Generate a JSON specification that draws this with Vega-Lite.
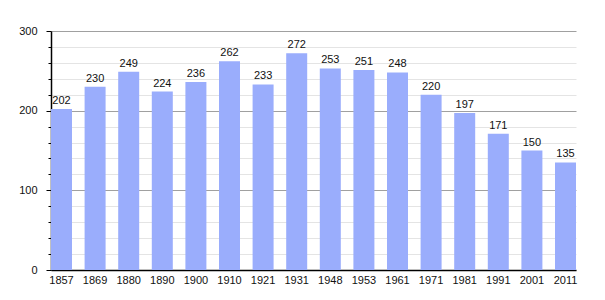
{
  "$schema": "https://vega.github.io/schema/vega-lite/v6.json",
  "width": 525,
  "height": 239,
  "autosize": {"type": "none"},
  "padding": {"left": 51, "top": 31, "right": 29, "bottom": 30},
  "background": "white",
  "config": {
    "view": {"stroke": null},
    "font": "Liberation Sans",
    "axis": {"labelFont": "Liberation Sans", "labelFontSize": 11, "labelColor": "#111"}
  },
  "data": {
    "values": [
      {"year": "1857", "pop": 202},
      {"year": "1869", "pop": 230},
      {"year": "1880", "pop": 249},
      {"year": "1890", "pop": 224},
      {"year": "1900", "pop": 236},
      {"year": "1910", "pop": 262},
      {"year": "1921", "pop": 233},
      {"year": "1931", "pop": 272},
      {"year": "1948", "pop": 253},
      {"year": "1953", "pop": 251},
      {"year": "1961", "pop": 248},
      {"year": "1971", "pop": 220},
      {"year": "1981", "pop": 197},
      {"year": "1991", "pop": 171},
      {"year": "2001", "pop": 150},
      {"year": "2011", "pop": 135}
    ]
  },
  "encoding": {
    "x": {
      "field": "year", "type": "ordinal",
      "scale": {"paddingInner": 0.375, "paddingOuter": 0},
      "axis": {"title": null, "labelAngle": 0, "ticks": false, "domainColor": "#000", "domainWidth": 1.5, "labelPadding": 4, "grid": false}
    },
    "y": {
      "field": "pop", "type": "quantitative",
      "scale": {"domain": [0, 300], "nice": false},
      "axis": {
        "title": null,
        "values": [0, 20, 40, 60, 80, 100, 120, 140, 160, 180, 200, 220, 240, 260, 280, 300],
        "labelExpr": "datum.value % 100 === 0 ? datum.label : ''",
        "grid": true,
        "gridColor": {"condition": {"test": "datum.value % 100 === 0", "value": "#a0a0a0"}, "value": "#e4e4e4"},
        "tickColor": "#000",
        "tickSize": {"condition": {"test": "datum.value % 100 === 0", "value": 5}, "value": 3},
        "labelPadding": 9,
        "domainColor": "#000",
        "domainWidth": 1.5
      }
    }
  },
  "layer": [
    {"mark": {"type": "bar", "color": "#9aadfc"}},
    {
      "mark": {"type": "text", "baseline": "bottom", "dy": -3, "fontSize": 11, "color": "#111", "font": "Liberation Sans"},
      "encoding": {"text": {"field": "pop"}}
    }
  ]
}
